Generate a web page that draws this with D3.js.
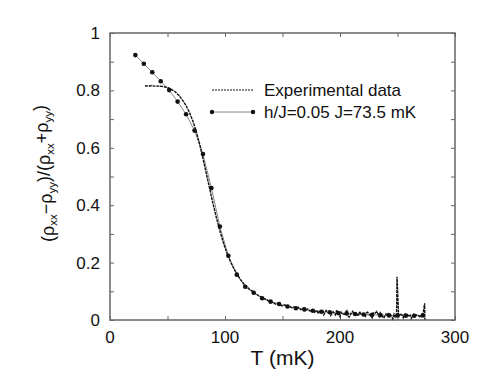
<!DOCTYPE html>
<html>
<head>
<meta charset="utf-8">
<script src="https://cdn.jsdelivr.net/npm/d3@7"></script>
<style>
  body { margin: 0; background: #fff; }
  text { font-family: "Liberation Sans", Arial, sans-serif; fill: #111; }
</style>
</head>
<body>
<div id="chart"></div>
<script>

// simulation, h/J=0.05 J=73.5 mK
var simT = [22.05, 29.4, 36.75, 44.1, 51.45, 58.8, 66.15, 73.5, 80.85, 88.2, 95.55, 102.9,
  110.25, 117.6, 124.95, 132.3, 139.65, 147, 154.35, 161.7, 169.05, 176.4, 183.75, 191.1,
  198.45, 205.8, 213.15, 220.5, 227.85, 235.2, 242.55, 249.9, 257.25, 264.6, 271.95];
var simY = [0.923, 0.893, 0.863, 0.832, 0.801, 0.761, 0.717, 0.660, 0.578, 0.460, 0.326, 0.224,
  0.158, 0.116, 0.095, 0.076, 0.064, 0.056, 0.047, 0.041, 0.037, 0.032, 0.029, 0.027,
  0.024, 0.023, 0.021, 0.019, 0.018, 0.017, 0.016, 0.016, 0.015, 0.015, 0.016];

// experimental data
var expT = [30.4, 33, 36, 39, 42, 45, 48, 51, 54, 57, 60, 63, 66, 69, 72, 75, 78, 81, 84, 87,
  90, 93, 96, 99, 102, 105, 108, 111, 114, 117, 120, 122, 124, 126, 128, 130, 132, 134, 136,
  138, 140, 142, 144, 146, 148, 150, 152, 154, 156, 158, 160, 162, 164, 166, 168, 170, 172,
  174, 176, 178, 180, 181, 182, 184, 185, 186, 188, 190, 191, 192, 194, 196, 197, 198, 200,
  201, 202, 204, 206, 207, 208, 210, 211, 212, 214, 216, 217, 218, 220, 222, 223, 224, 226,
  228, 229, 230, 232, 234, 235, 236, 238, 240, 241, 242, 244, 246, 247, 248, 249.2, 249.6,
  251, 252, 254, 255, 256, 258, 260, 261, 262, 264, 265, 266, 268, 270, 271, 272, 273.6, 273.8];
var expY = [0.816, 0.815, 0.816, 0.815, 0.815, 0.814, 0.812, 0.809, 0.802, 0.794, 0.782, 0.766,
  0.748, 0.724, 0.694, 0.657, 0.612, 0.560, 0.506, 0.452, 0.398, 0.349, 0.304, 0.264, 0.230,
  0.201, 0.177, 0.156, 0.138, 0.123, 0.112, 0.104, 0.101, 0.093, 0.088, 0.083, 0.079, 0.074,
  0.072, 0.066, 0.063, 0.061, 0.055, 0.058, 0.052, 0.049, 0.053, 0.045, 0.047, 0.043, 0.046,
  0.040, 0.044, 0.036, 0.041, 0.034, 0.038, 0.031, 0.036, 0.027, 0.034, 0.022, 0.030, 0.026,
  0.035, 0.019, 0.033, 0.024, 0.031, 0.016, 0.029, 0.018, 0.032, 0.030, 0.012, 0.027, 0.021,
  0.020, 0.032, 0.014, 0.010, 0.026, 0.030, 0.019, 0.024, 0.014, 0.029, 0.022, 0.020, 0.012,
  0.025, 0.027, 0.017, 0.008, 0.024, 0.022, 0.030, 0.012, 0.025, 0.019, 0.006, 0.021, 0.014,
  0.023, 0.018, 0.004, 0.020, 0.010, 0.020, 0.151, 0.010, 0.021, 0.018, 0.008, 0.020, 0.022,
  0.012, 0.017, 0.006, 0.019, 0.013, 0.018, 0.016, 0.009, 0.017, 0.014, 0.058, 0.002];

var xTicks = [0, 100, 200, 300];
var xMinor = [50, 150, 250];
var yTicks = [0, 0.2, 0.4, 0.6, 0.8, 1];
var yMinor = [0.1, 0.3, 0.5, 0.7, 0.9];

var W = 498, H = 384;
var margin = {top: 33, right: 43, bottom: 64, left: 110},
    width = W - margin.left - margin.right,
    height = H - margin.top - margin.bottom;

var svg = d3.select("#chart").append("svg")
    .attr("width", W).attr("height", H)
  .append("g")
    .attr("transform", "translate(" + margin.left + "," + margin.top + ")");

var x = d3.scaleLinear().domain([0, 300]).range([0, width]);
var y = d3.scaleLinear().domain([0, 1]).range([height, 0]);

var axisColor = "#666";

// inward ticks on all four sides
function tickAxis(axis, transform) {
  var g = svg.append("g").attr("transform", transform).call(axis);
  g.select(".domain").remove();
  g.selectAll(".tick line").attr("stroke", axisColor).attr("stroke-width", 1);
  return g;
}
var tk = 4;
tickAxis(d3.axisBottom(x).tickValues(xTicks.concat(xMinor)).tickSize(-tk).tickFormat(""), "translate(0," + height + ")");
tickAxis(d3.axisTop(x).tickValues(xTicks.concat(xMinor)).tickSize(-tk).tickFormat(""), "translate(0,0)");
tickAxis(d3.axisLeft(y).tickValues(yTicks.concat(yMinor)).tickSize(-tk).tickFormat(""), "translate(0,0)");
tickAxis(d3.axisRight(y).tickValues(yTicks.concat(yMinor)).tickSize(-tk).tickFormat(""), "translate(" + width + ",0)");

// tick labels
svg.append("g").selectAll("text").data(xTicks).enter().append("text")
  .attr("x", function(d) { return x(d); })
  .attr("y", height + 23)
  .attr("text-anchor", "middle")
  .style("font-size", "17px")
  .text(function(d) { return d; });
svg.append("g").selectAll("text").data(yTicks).enter().append("text")
  .attr("x", -10)
  .attr("y", function(d) { return y(d) + 6; })
  .attr("text-anchor", "end")
  .style("font-size", "17px")
  .text(function(d) { return d; });

// frame
svg.append("rect")
  .attr("width", width).attr("height", height)
  .attr("fill", "none").attr("stroke", axisColor).attr("stroke-width", 1.5);

// axis titles
svg.append("text")
  .attr("x", width / 2).attr("y", height + 45)
  .attr("text-anchor", "middle")
  .style("font-size", "21px")
  .text("T (mK)");

var yt = svg.append("text")
  .attr("transform", "translate(-56," + (height / 2 - 3) + ") rotate(-90)")
  .attr("text-anchor", "middle")
  .style("font-size", "18px");
var sub = "11.5px";
yt.append("tspan").text("(\u03c1");
yt.append("tspan").text("xx").attr("dy", "0.3em").style("font-size", sub);
yt.append("tspan").text("\u2212\u03c1").attr("dy", "-0.3em");
yt.append("tspan").text("yy").attr("dy", "0.3em").style("font-size", sub);
yt.append("tspan").text(")/(\u03c1").attr("dy", "-0.3em");
yt.append("tspan").text("xx").attr("dy", "0.3em").style("font-size", sub);
yt.append("tspan").text("+\u03c1").attr("dy", "-0.3em");
yt.append("tspan").text("yy").attr("dy", "0.3em").style("font-size", sub);
yt.append("tspan").text(")").attr("dy", "-0.3em");

// data
var sim = simT.map(function(t, i) { return {t: t, v: simY[i]}; });
var exp = expT.map(function(t, i) { return {t: t, v: expY[i]}; });

var line = d3.line()
  .x(function(d) { return x(d.t); })
  .y(function(d) { return y(d.v); });

svg.append("path").datum(sim)
  .attr("fill", "none").attr("stroke", "#888").attr("stroke-width", 1)
  .attr("d", line);

svg.append("path").datum(exp)
  .attr("fill", "none").attr("stroke", "#111").attr("stroke-width", 1.4)
  .attr("stroke-dasharray", "3,0.8")
  .attr("d", line);

svg.append("g").selectAll("circle").data(sim).enter().append("circle")
  .attr("cx", function(d) { return x(d.t); })
  .attr("cy", function(d) { return y(d.v); })
  .attr("r", 2.3)
  .attr("fill", "#111");

// legend
var lg = svg.append("g").attr("transform", "translate(" + (212 - margin.left) + "," + (90 - margin.top) + ")");
lg.append("line").attr("x1", 0).attr("x2", 41).attr("y1", 0).attr("y2", 0)
  .attr("stroke", "#111").attr("stroke-dasharray", "2,1");
lg.append("text").attr("x", 52).attr("y", 6).style("font-size", "17px").text("Experimental data");
lg.append("line").attr("x1", 0).attr("x2", 41).attr("y1", 22).attr("y2", 22)
  .attr("stroke", "#888");
lg.selectAll("circle").data([0, 41]).enter().append("circle")
  .attr("cx", function(d) { return d; }).attr("cy", 22).attr("r", 2.2).attr("fill", "#111");
lg.append("text").attr("x", 52).attr("y", 28).style("font-size", "17px").text("h/J=0.05 J=73.5 mK");

</script>
</body>
</html>
